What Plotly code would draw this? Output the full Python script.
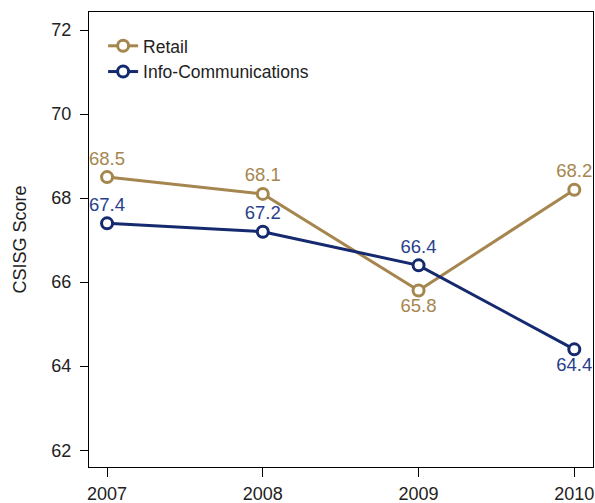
import plotly.graph_objects as go

years = [2007, 2008, 2009, 2010]
retail = [68.5, 68.1, 65.8, 68.2]
infocomm = [67.4, 67.2, 66.4, 64.4]
retail_pos = ["top center", "top center", "bottom center", "top center"]
info_pos = ["top center", "top center", "top center", "bottom center"]
y_ticks = [62, 64, 66, 68, 70, 72]

gold = "#A6864F"
navy = "#14296E"
navy_text = "#2A3F8C"
font = "Liberation Sans"

fig = go.Figure()
fig.add_trace(go.Scatter(
    x=years, y=retail, name="Retail", mode="lines+markers+text",
    line=dict(color=gold, width=3),
    marker=dict(symbol="circle", size=11, color="white", line=dict(color=gold, width=3)),
    text=[f"{v:.1f}" for v in retail], textposition=retail_pos,
    textfont=dict(color=gold, size=18.5, family=font),
))
fig.add_trace(go.Scatter(
    x=years, y=infocomm, name="Info-Communications", mode="lines+markers+text",
    line=dict(color=navy, width=3),
    marker=dict(symbol="circle", size=11, color="white", line=dict(color=navy, width=3)),
    text=[f"{v:.1f}" for v in infocomm], textposition=info_pos,
    textfont=dict(color=navy_text, size=18.5, family=font),
))

fig.update_layout(
    width=595, height=503,
    margin=dict(l=89, r=2, t=12, b=36),
    paper_bgcolor="white", plot_bgcolor="white",
    font=dict(family=font, size=18, color="#222"),
    showlegend=True,
    legend=dict(x=0.028, y=0.965, xanchor="left", yanchor="top",
                bgcolor="rgba(0,0,0,0)", font=dict(size=17.5, color="#222"),
                itemwidth=30, tracegroupgap=0),
    xaxis=dict(range=[2006.884, 2010.12], tickvals=years, ticktext=[str(y) for y in years],
               automargin=False,
               showgrid=False, zeroline=False, showline=True, linecolor="black", linewidth=1,
               mirror=True, ticks="outside", ticklen=9, tickcolor="black",
               ticklabelstandoff=1,
               tickfont=dict(size=18, color="#222")),
    yaxis=dict(range=[61.6, 72.43], tickvals=y_ticks,
               automargin=False,
               showgrid=False, zeroline=False, showline=True, linecolor="black", linewidth=1,
               mirror=True, ticks="outside", ticklen=8, tickcolor="black",
               ticklabelstandoff=5,
               tickfont=dict(size=18, color="#222"),
               title=dict(text="CSISG Score", font=dict(size=18, color="#222"), standoff=20)),
)

fig.write_html("out.html")
